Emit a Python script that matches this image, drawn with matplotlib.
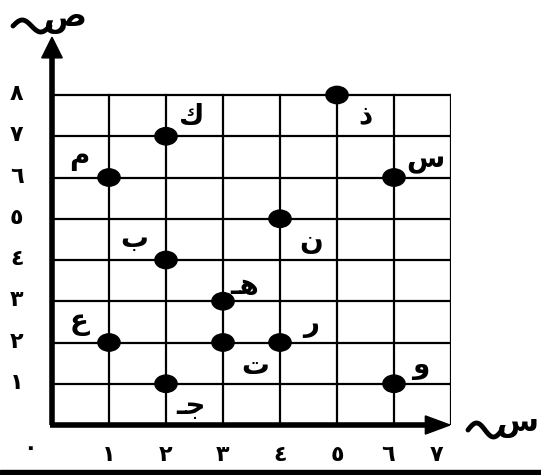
import numpy as np
import matplotlib.pyplot as plt
from matplotlib.patches import Ellipse, Rectangle, Polygon

plt.rcParams['font.family'] = ['DejaVu Sans']
plt.rcParams['font.weight'] = 'bold'

# Points on the grid (x, y) and their Arabic letter names
# (initial forms written in visual order, since matplotlib draws left to right)
letters = ["ك", "م", "ب", "ن", "ذ", "س", "ـﻫ", "ر", "ت", "ع", "ـﺟ", "و"]
xs = [2, 1, 2, 4, 5, 6, 3, 4, 3, 1, 2, 6]
ys = [7, 6, 4, 5, 8, 6, 3, 2, 2, 2, 1, 1]

# where each letter sits relative to its point
label_offsets = [(0.45, 0.48), (-0.52, 0.5), (-0.56, 0.5), (0.54, -0.55),
                 (0.5, -0.48), (0.55, 0.42), (0.38, 0.36), (0.54, 0.46),
                 (0.57, -0.58), (-0.52, 0.5), (0.44, -0.55), (0.46, 0.44)]

x_ticks = ["٠", "١", "٢", "٣", "٤", "٥", "٦", "٧"]
y_ticks = ["١", "٢", "٣", "٤", "٥", "٦", "٧", "٨"]
x_name = "س"
y_name = "ص"

fig = plt.figure(figsize=(5.41, 4.75), dpi=100)
ax = fig.add_axes([52 / 541, 50 / 475, 399 / 541, 371.25 / 475])
ax.set_xlim(0, 7)
ax.set_ylim(0, 9)
ax.axis('off')

# grid
for i in range(1, 8):
    ax.plot([i, i], [0, 8], color='black', lw=1.6, zorder=1)
for j in range(1, 9):
    ax.plot([0, 7], [j, j], color='black', lw=1.6, zorder=1)

# axes with arrows
ax.plot([0, 0], [0, 9.0], color='black', lw=4, zorder=2, clip_on=False,
        solid_capstyle='butt')
ax.plot([-0.035, 6.6], [0, 0], color='black', lw=4, zorder=2, clip_on=False,
        solid_capstyle='butt')
ax.add_patch(Polygon([(-0.18, 8.9), (0.18, 8.9), (0, 9.4)], closed=True,
                     color='black', clip_on=False, zorder=2))
ax.add_patch(Polygon([(6.55, -0.22), (6.55, 0.22), (6.98, 0)], closed=True,
                     color='black', clip_on=False, zorder=2))

# points
for x, y in zip(xs, ys):
    ax.add_patch(Ellipse((x, y), 0.39, 0.42, color='black', zorder=3))

# letters
for name, x, y, (dx, dy) in zip(letters, xs, ys, label_offsets):
    ax.text(x + dx, y + dy, name, fontsize=20, fontweight='bold',
            ha='center', va='center', zorder=4)

# tick labels
for i, t in enumerate(x_ticks):
    xpos = i if i < 7 else 6.75
    if i == 0:
        ax.text(-0.38, -0.55, t, fontsize=16, ha='center', va='center')
    else:
        ax.text(xpos - (0.1 if i == 6 else 0), -0.72, t, fontsize=16,
                ha='center', va='center')
for j, t in enumerate(y_ticks):
    ax.text(-0.62, j + 1 + 0.02, t, fontsize=16, ha='center', va='center')


# axis names: a wavy swash followed by the letter
def swash(x0, x1, yc, amp):
    tt = np.linspace(0, 1, 60)
    px = x0 + (x1 - x0) * tt
    py = yc + amp * np.sin(2 * np.pi * tt + np.pi)
    fig.add_artist(plt.Line2D(px / 541, 1 - py / 475, color='black', lw=3.5,
                              solid_capstyle='round'))


swash(13, 50, 26, 6)
fig.text(65 / 541, 1 - 19 / 475, y_name, fontsize=23, ha='center', va='center')
swash(468, 502, 430, 7)
fig.text(517 / 541, 1 - 424 / 475, x_name, fontsize=22, ha='center', va='center')

# black strip along the bottom edge
fig.patches.append(Rectangle((0, 0), 1, 5 / 475, transform=fig.transFigure,
                             color='black', zorder=0))

fig.savefig("out.png", dpi=100)
